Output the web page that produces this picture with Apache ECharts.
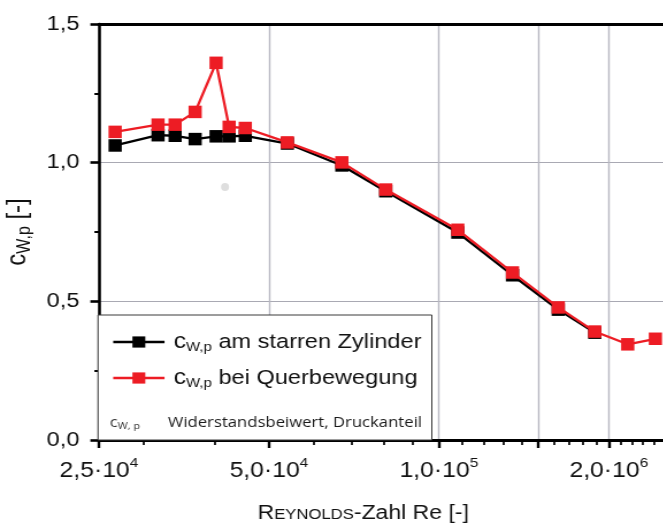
<!DOCTYPE html>
<html><head><meta charset="utf-8">
<script src="https://cdn.jsdelivr.net/npm/echarts@6/dist/echarts.min.js"></script>
<style>
html,body{margin:0;padding:0;background:#fff;overflow:hidden;}
#chart{width:577px;height:523px;transform:scaleX(1.15);transform-origin:0 0;}
</style></head><body><div id="chart"></div>
<script>
// ---- data ----
const reynolds = [26700, 31800, 34100, 37000, 40300, 42500, 45400, 53900, 67300, 80500, 108000, 135000, 162700, 188800, 216000, 241800];
const cwStarr = [1.062, 1.099, 1.097, 1.085, 1.095, 1.095, 1.097, 1.069, 0.990, 0.897, 0.748, 0.594, 0.470, 0.387];
const cwQuer  = [1.111, 1.137, 1.137, 1.183, 1.360, 1.129, 1.125, 1.073, 1.001, 0.903, 0.758, 0.604, 0.478, 0.391, 0.345, 0.365];
const strayRe = [41800];
const strayCw = [0.912];
const seriesNames = ['c W,p am starren Zylinder', 'c W,p bei Querbewegung'];
const legendTexts = ['am starren Zylinder', 'bei Querbewegung'];
const xMajorTicks = [25000, 50000, 100000, 150000, 200000];
const xGridValues = [50000, 100000, 150000, 200000];
const xLabelValues = [25000, 50000, 100000, 200000];
const xLabelMantissa = ['2,5', '5,0', '1,0', '2,0'];
const xLabelExponent = ['4', '4', '5', '6'];
const xMinorTicks = [30000, 40000, 60000, 70000, 80000, 90000, 110000, 120000, 130000, 140000, 160000, 170000, 180000, 190000, 210000, 220000, 230000, 240000];
const yTickValues = [0, 0.5, 1.0, 1.5];
const yTickLabels = ['0,0', '0,5', '1,0', '1,5'];
const yGridValues = [0.5, 1.0];
const footnoteSymbol = 'W, p';
const footnoteText = 'Widerstandsbeiwert, Druckanteil';

const FONT = '"Liberation Sans", Arial, sans-serif';
const chart = echarts.init(document.getElementById('chart'), null, {renderer: 'canvas'});

const xRange = {type: 'log', logBase: 10, min: 25000, max: 250000, gridIndex: 0};

const option = {
  animation: false,
  backgroundColor: '#fff',
  textStyle: {fontFamily: FONT},
  grid: {left: 86.1, right: 0, top: 24, bottom: 83, containLabel: false, outerBoundsMode: 'none'},
  title: {
    text: '{r|R}{k|EYNOLDS}{r|-Zahl Re [-]}',
    left: 219, top: 497,
    textStyle: {
      fontFamily: FONT, color: '#111', fontWeight: 'normal',
      rich: {
        r: {fontFamily: FONT, fontSize: 20, color: '#111', lineHeight: 22},
        k: {fontFamily: FONT, fontSize: 14.5, color: '#111', lineHeight: 22, padding: [4, 0, 0, 0]}
      }
    }
  },
  xAxis: [
    Object.assign({}, xRange, {
      position: 'bottom', z: 3,
      axisLine: {show: true, onZero: false, lineStyle: {color: '#000', width: 3}},
      axisTick: {show: true, customValues: xMajorTicks, length: 8, inside: false, lineStyle: {color: '#000', width: 2.4}},
      axisLabel: {
        customValues: xLabelValues, margin: 20, color: '#111',
        formatter: function (v) {
          const i = xLabelValues.findIndex(function (t) { return Math.abs(t - v) < 1; });
          if (i < 0) return '';
          return '{n|' + xLabelMantissa[i] + '·10}{s|' + xLabelExponent[i] + '}';
        },
        rich: {
          n: {fontFamily: FONT, fontSize: 21.5, color: '#111', lineHeight: 22},
          s: {fontFamily: FONT, fontSize: 13.5, color: '#111', lineHeight: 13, padding: [0, 0, 16, 0]}
        }
      },
      splitLine: {show: false}, minorTick: {show: false}
    }),
    Object.assign({}, xRange, {
      position: 'bottom', z: 3,
      axisLine: {show: false, onZero: false},
      axisTick: {show: true, customValues: xMinorTicks, length: 5, inside: false, lineStyle: {color: '#000', width: 1.7}},
      axisLabel: {show: false},
      splitLine: {show: false}
    }),
    Object.assign({}, xRange, {
      position: 'bottom', z: 0,
      axisLine: {show: false, onZero: false},
      axisTick: {show: false, customValues: xGridValues},
      axisLabel: {show: false},
      splitLine: {show: true, lineStyle: {color: '#b8b8c2', width: 1.4}}
    }),
    Object.assign({}, xRange, {
      position: 'top', z: 3,
      axisLine: {show: true, onZero: false, lineStyle: {color: '#000', width: 3}},
      axisTick: {show: false}, axisLabel: {show: false}, splitLine: {show: false}
    })
  ],
  yAxis: [
    {
      type: 'value', min: 0, max: 1.5, interval: 0.5, position: 'left', z: 3,
      axisLine: {show: true, onZero: false, lineStyle: {color: '#000', width: 2.6}},
      axisTick: {show: true, length: 7.5, inside: false, lineStyle: {color: '#000', width: 2.6}},
      minorTick: {show: true, splitNumber: 2, length: 4, lineStyle: {color: '#000', width: 2}},
      axisLabel: {
        margin: 17, color: '#111', fontFamily: FONT, fontSize: 20.5,
        formatter: function (v) {
          const i = yTickValues.findIndex(function (t) { return Math.abs(t - v) < 1e-6; });
          return i < 0 ? '' : yTickLabels[i];
        }
      },
      splitLine: {show: false},
      name: '{c|c}{s|W,p}{t| [-]}',
      nameLocation: 'middle', nameRotate: 90, nameGap: 52,
      nameTextStyle: {
        color: '#111',
        rich: {
          c: {fontFamily: FONT, fontSize: 24, color: '#111', lineHeight: 26},
          s: {fontFamily: FONT, fontSize: 16, color: '#111', lineHeight: 16, padding: [12, 0, 0, 0]},
          t: {fontFamily: FONT, fontSize: 24, color: '#111', lineHeight: 26}
        }
      }
    },
    {
      type: 'value', min: 0, max: 1.5, position: 'left', z: 0,
      axisLine: {show: false, onZero: false},
      axisTick: {show: false, customValues: yGridValues},
      axisLabel: {show: false},
      splitLine: {show: true, lineStyle: {color: '#a9a9b3', width: 1}}
    }
  ],
  legend: {
    data: seriesNames,
    orient: 'vertical', left: 97.1, top: 330, padding: 0, itemGap: 12,
    itemWidth: 44.6, itemHeight: 14, z: 20,
    lineStyle: {width: 2.7},
    formatter: function (name) {
      const i = seriesNames.indexOf(name);
      return '{c|c}{s|W,p}{t| ' + legendTexts[i] + '}';
    },
    textStyle: {
      color: '#111', fontFamily: FONT, fontSize: 20.5,
      rich: {
        c: {fontFamily: FONT, fontSize: 21.5, color: '#111', lineHeight: 24, padding: [0, 0, 0, 3]},
        s: {fontFamily: FONT, fontSize: 13, color: '#111', lineHeight: 13, padding: [11, 0, 0, 0]},
        t: {fontFamily: FONT, fontSize: 20.5, color: '#111', lineHeight: 24}
      }
    }
  },
  graphic: [
    {type: 'rect', z: 10, shape: {x: 85.2, y: 315, width: 290.3, height: 125}, style: {fill: '#fff', stroke: '#3a3a3a', lineWidth: 1}},
    {type: 'text', z: 20, x: 95.5, y: 423, style: {
      text: '{c|c}{s|' + footnoteSymbol + '}', verticalAlign: 'middle',
      rich: {
        c: {fontFamily: '"Open Sans", sans-serif', fontSize: 14, fill: '#333', lineHeight: 16},
        s: {fontFamily: '"Open Sans", sans-serif', fontSize: 9.5, fill: '#333', lineHeight: 10, padding: [6, 0, 0, 0]}
      }
    }},
    {type: 'text', z: 20, x: 146, y: 423, style: {
      text: footnoteText, fill: '#1a1a1a', verticalAlign: 'middle',
      fontFamily: '"Open Sans", sans-serif', fontSize: 14.5
    }}
  ],
  series: [
    {
      name: seriesNames[0], type: 'line', xAxisIndex: 0, yAxisIndex: 0, z: 5,
      data: cwStarr.map(function (v, i) { return [reynolds[i], v]; }),
      symbol: 'rect', symbolSize: [11.5, 12.5], showAllSymbol: true,
      lineStyle: {color: '#000', width: 2.3}, itemStyle: {color: '#000'}
    },
    {
      name: seriesNames[1], type: 'line', xAxisIndex: 0, yAxisIndex: 0, z: 6,
      data: cwQuer.map(function (v, i) { return [reynolds[i], v]; }),
      symbol: 'rect', symbolSize: [11.5, 12.5], showAllSymbol: true,
      lineStyle: {color: '#ed1c24', width: 2.3}, itemStyle: {color: '#ed1c24'}
    },
    {
      name: 'stray', type: 'scatter', xAxisIndex: 0, yAxisIndex: 0, z: 4, silent: true,
      data: strayCw.map(function (v, i) { return [strayRe[i], v]; }),
      symbol: 'circle', symbolSize: [7, 8], itemStyle: {color: '#d6d6d6'}
    }
  ]
};
chart.setOption(option);
</script></body></html>
